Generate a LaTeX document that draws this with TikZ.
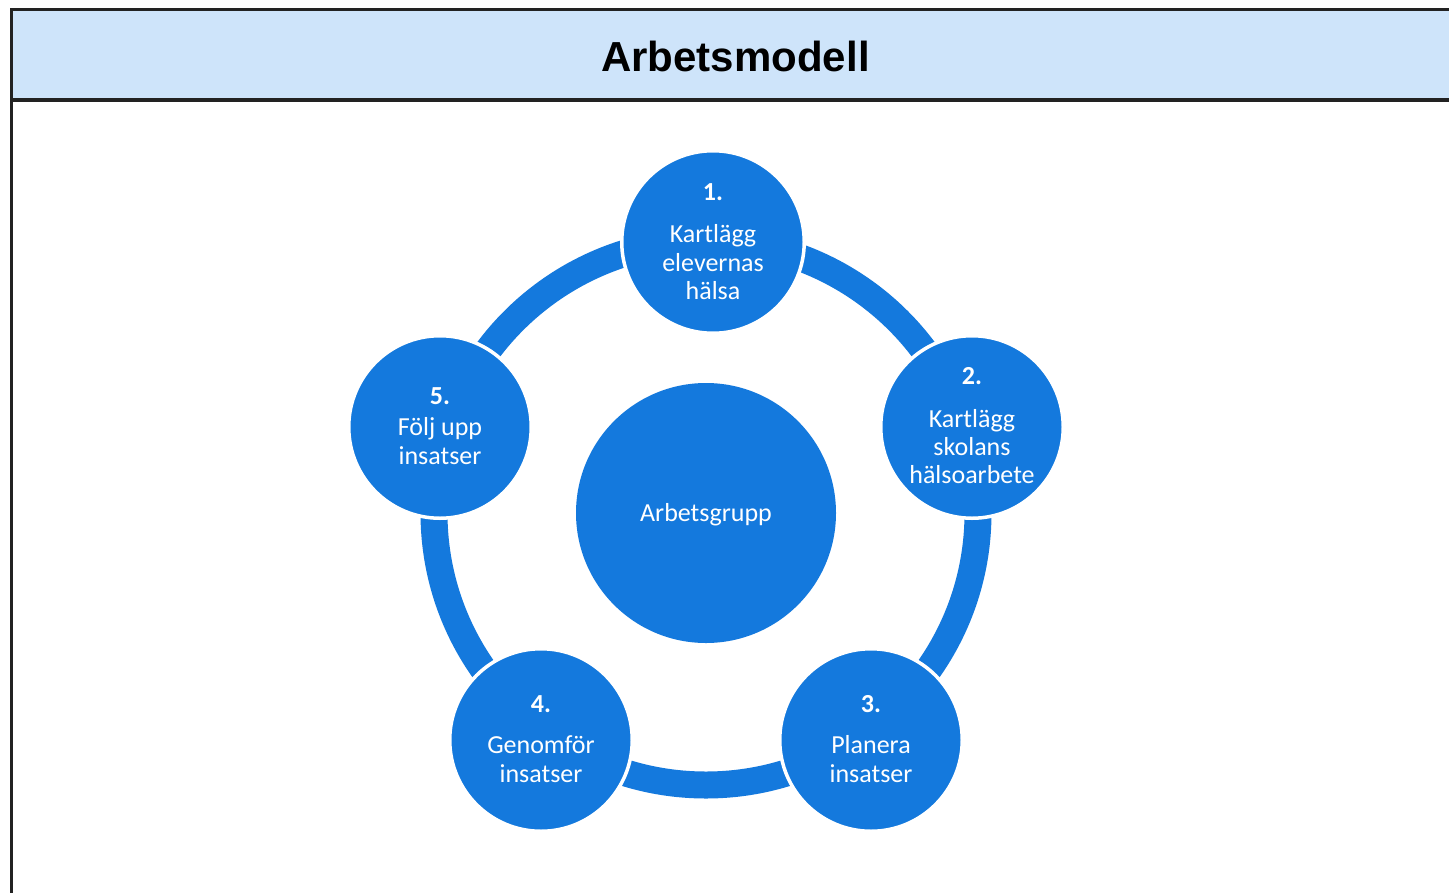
\documentclass[tikz,border=0pt]{standalone}
\usepackage{fontspec}
\setmainfont{Carlito}
\newfontfamily\titlefont{Liberation Sans}
\definecolor{cblue}{RGB}{20,121,221}
\definecolor{titlebg}{RGB}{206,228,250}
\definecolor{framec}{RGB}{34,34,34}
\begin{document}
\begin{tikzpicture}[x=1pt,y=-1pt,
  stepc/.style={circle, fill=cblue, draw=white, line width=3.5pt, minimum size=182.5pt, inner sep=0pt},
  hubc/.style={circle, fill=cblue, minimum size=260pt, inner sep=0pt},
  lbl/.style={text=white, font=\fontsize{26}{29}\selectfont, inner sep=0pt, anchor=base},
  num/.style={lbl, font=\bfseries\fontsize{26}{29}\selectfont},
  ring/.style={draw=cblue, line width=27pt}]
\useasboundingbox (0,0) rectangle (1449,892);
\clip (0,0) rectangle (1449,892);
% frame and title bar
\fill[white] (0,0) rectangle (1449,892);
\fill[titlebg] (11,9) rectangle (1470,100);
\draw[framec, line width=3pt] (11,9) rectangle (1470,910);
\draw[framec, line width=3.5pt] (11,100) -- (1470,100);
\node[anchor=base, inner sep=0pt, font=\titlefont\bfseries\fontsize{42}{48}\selectfont] (title) at (735.5,71) {Arbetsmodell};
% ring
\coordinate (hubc0) at (706,513);
\draw[ring] (hubc0) circle[radius=272];
% hub
\node[hubc] (hub) at (hubc0) {};
\node[lbl] (hubt) at (706,521) {Arbetsgrupp};
% step circles
\node[stepc] (s1) at (713,242) {};
\node[stepc] (s2) at (972,427) {};
\node[stepc] (s3) at (871,740) {};
\node[stepc] (s4) at (541,740) {};
\node[stepc] (s5) at (440,427) {};
% texts
\node[num] (s1n) at (713,200) {1.};
\node[lbl] (s1a) at (713,242) {Kartlägg};
\node[lbl] (s1b) at (713,271) {elevernas};
\node[lbl] (s1c) at (713,299) {hälsa};
\node[num] (s2n) at (972,384) {2.};
\node[lbl] (s2a) at (972,427) {Kartlägg};
\node[lbl] (s2b) at (972,455) {skolans};
\node[lbl] (s2c) at (972,483) {hälsoarbete};
\node[num] (s3n) at (871,712) {3.};
\node[lbl] (s3a) at (871,753) {Planera};
\node[lbl] (s3b) at (871,782) {insatser};
\node[num] (s4n) at (541,712) {4.};
\node[lbl] (s4a) at (541,753) {Genomför};
\node[lbl] (s4b) at (541,782) {insatser};
\node[num] (s5n) at (440,404) {5.};
\node[lbl] (s5a) at (440,435) {Följ upp};
\node[lbl] (s5b) at (440,464) {insatser};
\end{tikzpicture}
\end{document}
